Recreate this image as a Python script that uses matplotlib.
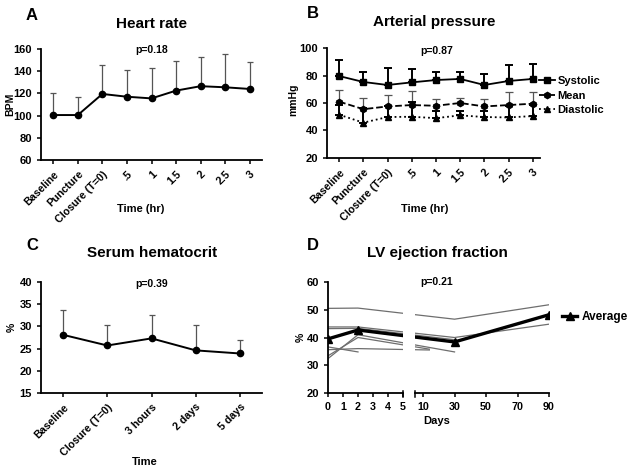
import numpy as np
import matplotlib
matplotlib.use('Agg')
import matplotlib.pyplot as plt

plt.rcParams['font.family'] = ['Liberation Sans', 'DejaVu Sans']
plt.rcParams['font.weight'] = 'bold'
plt.rcParams['axes.linewidth'] = 1.3
plt.rcParams['xtick.major.width'] = 1.1
plt.rcParams['ytick.major.width'] = 1.1
plt.rcParams['xtick.major.size'] = 3
plt.rcParams['ytick.major.size'] = 3
plt.rcParams['xtick.labelsize'] = 7.7
plt.rcParams['ytick.labelsize'] = 8

# A: heart rate
hr_labels = ['Baseline', 'Puncture', 'Closure (T=0)', '.5', '1', '1.5', '2', '2.5', '3']
hr_mean = [100.5, 100.5, 119.5, 117, 115.5, 122.5, 126.5, 125.5, 124]
hr_upper = [120, 116.5, 146, 141.5, 142.5, 149, 153, 155.5, 148]

# B: arterial pressure
bp_systolic = [79.6, 75.3, 73.1, 75.0, 76.7, 77.5, 73.1, 76.0, 77.5]
bp_systolic_up = [91.3, 82.8, 85.7, 85.0, 82.5, 82.8, 81.0, 87.4, 88.4]
bp_mean = [61.0, 55.5, 57.5, 58.5, 58.0, 60.0, 57.5, 58.5, 59.5]
bp_mean_up = [69.2, 63.4, 66.0, 68.5, 62.9, 63.6, 63.2, 68.0, 67.8]
bp_diastolic = [51.5, 45.7, 49.8, 50.0, 49.0, 51.0, 49.8, 49.5, 50.5]
bp_diastolic_up = [58.8, 56.4, 57.6, 60.5, 54.0, 54.0, 54.0, 58.0, 58.3]

# C: serum hematocrit
hct_labels = ['Baseline', 'Closure (T=0)', '3 hours', '2 days', '5 days']
hct_mean = [28.1, 25.7, 27.3, 24.6, 23.9]
hct_upper = [33.8, 30.3, 32.5, 30.3, 26.9]

# D: LV ejection fraction (individual patients + average)
ef_patient_days = [[0, 2, 30, 90], [0, 2, 30, 90], [0, 2, 30], [0, 2, 30],
                   [0, 2, 14], [0, 2], [0, 2, 14]]
ef_patient_values = [[50.5, 50.6, 46.6, 51.8], [43.8, 43.8, 40.0, 44.8],
                     [43.2, 43.3, 39.2], [32.4, 41.0, 34.8],
                     [33.4, 40.0, 35.8], [36.6, 34.8], [35.6, 36.0, 35.5]]
ef_avg_days = [0, 2, 30, 90]
ef_avg = [39.5, 42.7, 38.4, 48.2]

W, H = 629, 471
fig = plt.figure(figsize=(W / 100, H / 100), dpi=100)


def px_axes(l, t, r, b):
    return fig.add_axes([l / W, 1 - b / H, (r - l) / W, (b - t) / H])


def px_text(x, y, s, **kw):
    fig.text(x / W, 1 - y / H, s, ha='center', va='center', **kw)


def style(ax):
    ax.spines['top'].set_visible(False)
    ax.spines['right'].set_visible(False)
    for lab in ax.get_yticklabels() + ax.get_xticklabels():
        lab.set_fontweight('bold')


def rot_labels(ax, labels):
    ax.set_xticks(range(len(labels)))
    ax.set_xticklabels(labels, rotation=45, ha='right', rotation_mode='anchor')


# ---- A ----
axa = px_axes(41, 49, 262, 160)
x = np.arange(len(hr_mean))
up = np.array(hr_upper) - np.array(hr_mean)
axa.errorbar(x, hr_mean, yerr=[np.zeros_like(up), up], fmt='none', ecolor='#555555',
             elinewidth=0.9, capsize=2, capthick=0.9)
axa.plot(x, hr_mean, color='black', lw=1.4, marker='o', ms=4.5)
axa.set_xlim(-0.5, 8.5)
axa.set_ylim(60, 160)
axa.set_yticks(range(60, 161, 20))
rot_labels(axa, hr_labels)
style(axa)

# ---- B ----
axb = px_axes(327, 48, 540, 158)
x = np.arange(len(bp_systolic))
series = [
    (bp_systolic, bp_systolic_up, '-', 's', 4.5, 'black', 1.4, 'Systolic'),
    (bp_mean, bp_mean_up, '--', 'h', 4.5, '#555555', 0.9, 'Mean'),
    (bp_diastolic, bp_diastolic_up, ':', '^', 4, 'black', 1.4, 'Diastolic'),
]
for vals, ups, ls, mk, ms, ec, ew, lab in series:
    u = np.array(ups) - np.array(vals)
    axb.errorbar(x, vals, yerr=[np.zeros_like(u), u], fmt='none', ecolor=ec,
                 elinewidth=ew, capsize=3, capthick=ew)
    axb.plot(x, vals, color='black', ls=ls, lw=1.3, marker=mk, ms=ms, label=lab)
axb.set_xlim(-0.5, 8.3)
axb.set_ylim(20, 100)
axb.set_yticks(range(20, 101, 20))
rot_labels(axb, hr_labels)
style(axb)
axb.legend(loc='center left', bbox_to_anchor=(539 / W, 1 - 95.5 / H),
           bbox_transform=fig.transFigure, frameon=False,
           handlelength=1.4, handletextpad=0.25, labelspacing=0.38,
           borderpad=0, borderaxespad=0, prop={'weight': 'bold', 'size': 8})

# ---- C ----
axc = px_axes(41, 282, 262, 393)
x = np.arange(len(hct_mean))
up = np.array(hct_upper) - np.array(hct_mean)
axc.errorbar(x, hct_mean, yerr=[np.zeros_like(up), up], fmt='none', ecolor='#555555',
             elinewidth=0.9, capsize=2, capthick=0.9)
axc.plot(x, hct_mean, color='black', lw=1.4, marker='o', ms=4.5)
axc.set_xlim(-0.5, 4.5)
axc.set_ylim(15, 40)
axc.set_yticks(range(15, 41, 5))
rot_labels(axc, hct_labels)
style(axc)

# ---- D: broken x axis, both parts share one piecewise scale ----
knot_days = [0, 5, 10, 90]
knot_scale = [0, 5, 6.3333, 14.6667]


def fwd(v):
    return np.interp(v, knot_days, knot_scale)


def inv(v):
    return np.interp(v, knot_scale, knot_days)


axd1 = px_axes(328, 282, 403, 393)
axd2 = px_axes(415, 282, 549, 393)
for ax, lim in ((axd1, (0, 5)), (axd2, (8, 90))):
    ax.set_xscale('function', functions=(fwd, inv))
    for d, v in zip(ef_patient_days, ef_patient_values):
        ax.plot(d, v, color='#6e6e6e', lw=0.9)
    ax.plot(ef_avg_days, ef_avg, color='black', lw=2.4, marker='^', ms=6, label='Average')
    ax.set_xlim(*lim)
    ax.set_ylim(20, 60)
    style(ax)
    ax.plot([1 if ax is axd1 else 0] * 2, [-0.035, 0.02], color='black', lw=1.1,
            transform=ax.transAxes, clip_on=False)
axd1.set_xticks(range(0, 6))
axd1.set_yticks(range(20, 61, 10))
axd2.set_xticks([10, 30, 50, 70, 90])
axd2.spines['left'].set_visible(False)
axd2.set_yticks([])
for ax in (axd1, axd2):
    for lab in ax.get_xticklabels() + ax.get_yticklabels():
        lab.set_fontweight('bold')
axd2.legend(loc='center left', bbox_to_anchor=(562 / W, 1 - 317 / H),
            bbox_transform=fig.transFigure, frameon=False,
            handlelength=1.3, handletextpad=0.4, borderpad=0, borderaxespad=0,
            prop={'weight': 'bold', 'size': 8.5})

# ---- texts ----
for x0, y0, s in ((32, 15, 'A'), (313, 14, 'B'), (32, 246, 'C'), (313, 245, 'D')):
    px_text(x0, y0, s, fontsize=12, fontweight='bold')
for x0, y0, s in ((152, 24, 'Heart rate'), (434, 22, 'Arterial pressure'),
                  (152, 253, 'Serum hematocrit'), (437, 253, 'LV ejection fraction')):
    px_text(x0, y0, s, fontsize=11, fontweight='bold')
for x0, y0, s in ((152, 50, 'p=0.18'), (437, 51, 'p=0.87'),
                  (152, 284, 'p=0.39'), (437, 282, 'p=0.21')):
    px_text(x0, y0, s, fontsize=7.5, fontweight='bold')
for x0, y0, s in ((141, 209, 'Time (hr)'), (425, 209, 'Time (hr)'),
                  (145, 462, 'Time'), (437, 421, 'Days')):
    px_text(x0, y0, s, fontsize=8, fontweight='bold')
for x0, y0, s in ((10, 104, 'BPM'), (293, 100, 'mmHg'), (12, 327, '%'), (301, 337, '%')):
    px_text(x0, y0, s, fontsize=7.5, fontweight='bold', rotation=90)

fig.savefig('out.png', dpi=100)
